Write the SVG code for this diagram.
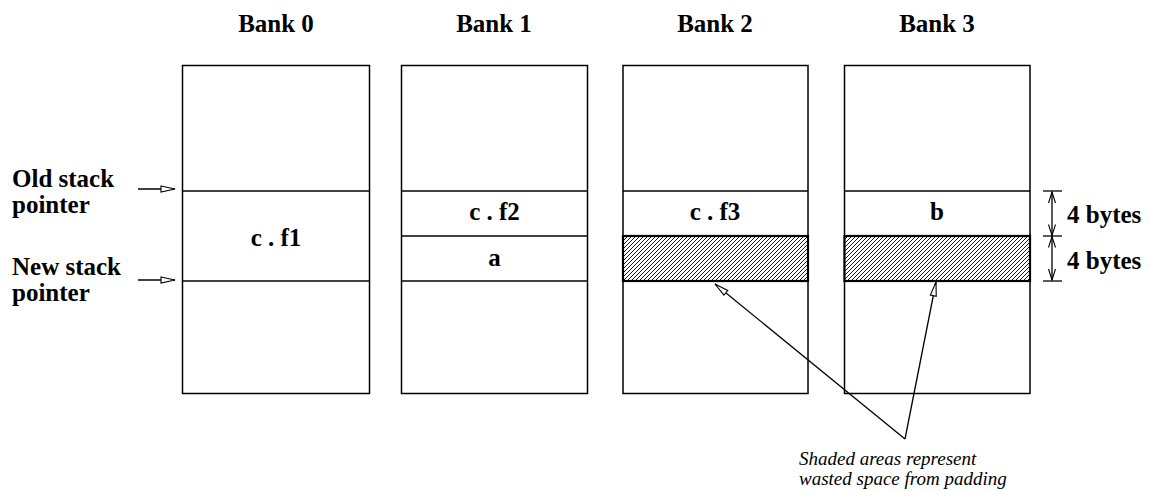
<svg xmlns="http://www.w3.org/2000/svg" width="1151" height="491" viewBox="0 0 1151 491">
<style>
.box{fill:#fff;stroke:#000;stroke-width:1.5}
.div{stroke:#000;stroke-width:1.5}
.shade{fill:url(#hatch);stroke:#000;stroke-width:2.2}
.t{font-family:"Liberation Serif","Times New Roman",serif;font-weight:bold;font-size:25px;fill:#000}
.c{text-anchor:middle}
.it{font-family:"Liberation Serif","Times New Roman",serif;font-style:italic;font-size:19px;fill:#000}
.ln{stroke:#000;stroke-width:1.3;fill:none}
</style>
<defs>
<pattern id="hatch" patternUnits="userSpaceOnUse" width="4" height="4">
<rect width="4" height="4" fill="#fff"/>
<path d="M-1,1 L1,-1 M0,4 L4,0 M3,5 L5,3" stroke="#000" stroke-width="0.9"/>
</pattern>
<marker id="oa" markerUnits="userSpaceOnUse" markerWidth="18" markerHeight="10" refX="15" refY="4" orient="auto">
<path d="M1,1 L15,4 L1,7 Z" fill="#fff" stroke="#000" stroke-width="1.1"/>
</marker>
<marker id="va" markerUnits="userSpaceOnUse" markerWidth="14" markerHeight="10" refX="12" refY="4" orient="auto-start-reverse">
<path d="M1,0.5 L12,4 L1,7.5" fill="none" stroke="#000" stroke-width="1.1"/>
</marker>
</defs>
<g id="titles">
<text class="t c" x="276" y="32">Bank 0</text>
<text class="t c" x="494" y="32">Bank 1</text>
<text class="t c" x="715" y="32">Bank 2</text>
<text class="t c" x="937" y="32">Bank 3</text>
</g>
<g id="bank0">
<rect class="box" x="182.5" y="65.5" width="187" height="328"/>
<line class="div" x1="182.5" y1="191" x2="369.5" y2="191"/>
<line class="div" x1="182.5" y1="281" x2="369.5" y2="281"/>
<text class="t c" x="276" y="246">c . f1</text>
</g>
<g id="bank1">
<rect class="box" x="401.5" y="65.5" width="186" height="328"/>
<line class="div" x1="401.5" y1="191" x2="587.5" y2="191"/>
<line class="div" x1="401.5" y1="236" x2="587.5" y2="236"/>
<line class="div" x1="401.5" y1="281" x2="587.5" y2="281"/>
<text class="t c" x="494.5" y="220">c . f2</text>
<text class="t c" x="494.5" y="266">a</text>
</g>
<g id="bank2">
<rect class="box" x="623" y="65.5" width="185" height="328"/>
<line class="div" x1="623" y1="191" x2="808" y2="191"/>
<rect class="shade" x="623" y="236" width="185" height="45"/>
<text class="t c" x="715" y="220">c . f3</text>
</g>
<g id="bank3">
<rect class="box" x="844.5" y="65.5" width="185.5" height="328"/>
<line class="div" x1="844.5" y1="191" x2="1030" y2="191"/>
<rect class="shade" x="844.5" y="236" width="185.5" height="45"/>
<text class="t c" x="937" y="220">b</text>
</g>
<g id="labels">
<text class="t" x="12" y="187">Old stack</text>
<text class="t" x="12" y="213">pointer</text>
<text class="t" x="12" y="275">New stack</text>
<text class="t" x="12" y="301">pointer</text>
<text class="t" x="1067" y="223">4 bytes</text>
<text class="t" x="1067" y="269">4 bytes</text>
<text class="it" x="799" y="465">Shaded areas represent</text>
<text class="it" x="799" y="485">wasted space from padding</text>
</g>
<g id="connectors">
<line class="ln" x1="138" y1="189" x2="175" y2="189" marker-end="url(#oa)"/>
<line class="ln" x1="138" y1="280" x2="175" y2="280" marker-end="url(#oa)"/>
<line class="ln" x1="1043" y1="191" x2="1062" y2="191"/>
<line class="ln" x1="1043" y1="236" x2="1062" y2="236"/>
<line class="ln" x1="1043" y1="281" x2="1062" y2="281"/>
<line class="ln" x1="1052" y1="192" x2="1052" y2="235.5" marker-start="url(#va)" marker-end="url(#va)"/>
<line class="ln" x1="1052" y1="236.5" x2="1052" y2="280" marker-start="url(#va)" marker-end="url(#va)"/>
<line class="ln" x1="905" y1="439" x2="715" y2="284" marker-end="url(#oa)"/>
<line class="ln" x1="905" y1="439" x2="936" y2="282" marker-end="url(#oa)"/>
</g>
</svg>
